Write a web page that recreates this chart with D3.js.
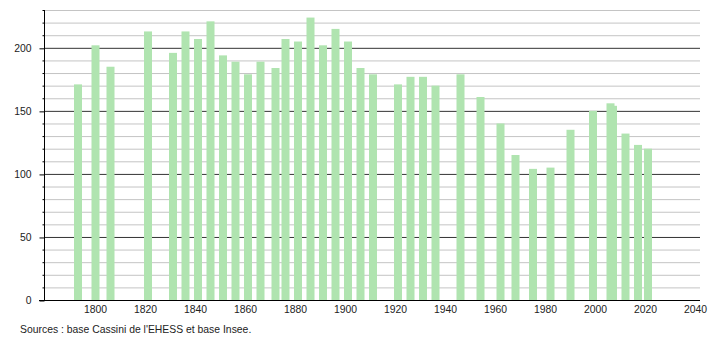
<html>
<head>
<meta charset="utf-8">
<style>
  body { margin: 0; background: #fff; }
  svg { display: block; font-family: "Liberation Sans", Arial, sans-serif; }
</style>
<script src="https://cdnjs.cloudflare.com/ajax/libs/d3/7.8.5/d3.min.js"></script>
</head>
<body>
<svg id="chart"></svg>
<script>
// population data
const years = [1793, 1800, 1806, 1821, 1831, 1836, 1841, 1846, 1851, 1856, 1861, 1866, 1872, 1876,
  1881, 1886, 1891, 1896, 1901, 1906, 1911, 1921, 1926, 1931, 1936, 1946, 1954, 1962, 1968, 1975,
  1982, 1990, 1999, 2006, 2007, 2012, 2017, 2021];
const population = [171, 202, 185, 213, 196, 213, 207, 221, 194, 189, 179, 189, 184, 207,
  205, 224, 202, 215, 205, 184, 179, 171, 177, 177, 170, 179, 161, 140, 115, 104,
  105, 135, 150, 156, 154, 132, 123, 120];
const yTicks = [0, 50, 100, 150, 200];
const xTicks = [1800, 1820, 1840, 1860, 1880, 1900, 1920, 1940, 1960, 1980, 2000, 2020, 2040];
const source = "Sources : base Cassini de l'EHESS et base Insee.";

const width = 710, height = 340;
const plotL = 44, plotR = 700, plotT = 10, plotB = 300;
const fontSize = 10.4;

const svg = d3.select('#chart').attr('width', width).attr('height', height);

const x = d3.scaleLinear().domain([1779.6, 2042]).range([plotL, plotR]);
const y = d3.scaleLinear().domain([0, 230]).range([plotB, plotT]);

// gridlines every 10, darker every 50
const grid = d3.range(10, 231, 10);
svg.append('g').selectAll('line')
  .data(grid)
  .enter()
  .append('line')
  .attr('x1', plotL).attr('x2', plotR)
  .attr('y1', d => y(d) + 0.5).attr('y2', d => y(d) + 0.5)
  .attr('stroke', d => d % 50 === 0 ? '#333' : '#c4c4c4')
  .attr('stroke-width', 1);

// bars
const barW = 8;
svg.append('g').selectAll('rect')
  .data(years.map((yr, i) => ({ yr, v: population[i] })))
  .enter()
  .append('rect')
  .attr('x', d => x(d.yr) - barW / 2 + 0.5)
  .attr('width', barW)
  .attr('y', d => y(d.v))
  .attr('height', d => y(0) - y(d.v))
  .attr('fill', '#b0e4b0');

// y axis with minor ticks
const yAxis = svg.append('g').attr('transform', `translate(${plotL + 0.5},0)`);
yAxis.call(d3.axisLeft(y).tickValues(yTicks).tickSize(5).tickPadding(8).tickFormat(d3.format('d')));
yAxis.selectAll('.tick line').attr('transform', 'translate(0,0.5)');
yAxis.select('.domain').attr('d', `M0,${plotT}V${plotB}`);
yAxis.selectAll('.minor')
  .data(grid.filter(d => d % 50 !== 0))
  .enter()
  .append('line')
  .attr('class', 'minor')
  .attr('x1', -2).attr('x2', 0)
  .attr('y1', d => y(d) + 0.5).attr('y2', d => y(d) + 0.5)
  .attr('stroke', '#000');
yAxis.selectAll('text').attr('font-size', fontSize).attr('fill', '#222');

// x axis
const xAxis = svg.append('g').attr('transform', `translate(0,${plotB + 0.5})`);
xAxis.call(d3.axisBottom(x).tickValues(xTicks).tickSize(0).tickPadding(5).tickFormat(d3.format('d')));
xAxis.select('.domain').attr('d', `M${plotL - 5},0H${plotR}`);
xAxis.selectAll('text').attr('font-size', fontSize).attr('fill', '#222');

svg.append('text')
  .attr('x', 20).attr('y', 333)
  .attr('font-size', fontSize)
  .attr('fill', '#222')
  .text(source);
</script>
</body>
</html>
